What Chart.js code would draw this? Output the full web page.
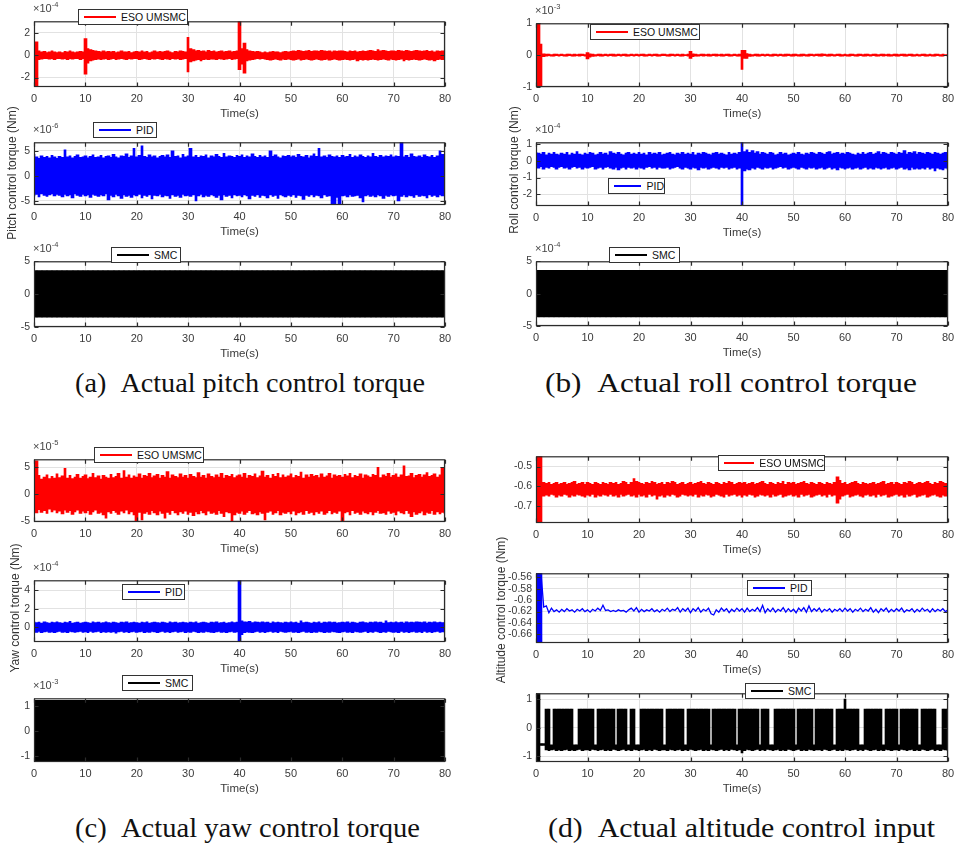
<!DOCTYPE html>
<html><head><meta charset="utf-8">
<script src="https://cdn.jsdelivr.net/npm/chart.js@4.4.0/dist/chart.umd.min.js"></script>
<style>
body{margin:0;background:#fff;width:957px;height:844px;position:relative;overflow:hidden;font-family:"Liberation Sans",Arial,sans-serif;}
canvas{position:absolute;}
.leg{position:absolute;background:#fff;border:1px solid #333;box-sizing:border-box;display:flex;align-items:center;font-size:10.5px;color:#111;white-space:nowrap;z-index:5;}
.leg i{display:inline-block;height:2px;margin:0 5px 0 5px;}
.exp{position:absolute;font-size:11px;color:#444;line-height:12px;white-space:nowrap;}
.exp sup{font-size:7.5px;vertical-align:5px;line-height:0;}
.ytl{position:absolute;width:220px;height:16px;line-height:16px;text-align:center;font-size:12px;color:#333;transform:rotate(-90deg);white-space:nowrap;}
.cap{position:absolute;font-family:"Liberation Serif","Times New Roman",serif;font-size:28px;line-height:30px;color:#111;white-space:nowrap;transform-origin:0 50%;}
</style></head><body>
<script>
// ---------- data ----------
const xTicks = [0,10,20,30,40,50,60,70,80];
const aEsoTicks = [-2,0,2];
const aPidTicks = [-5,0,5];
const smcTicks = [-5,0,5];
const bEsoTicks = [-1,0,1];
const bPidTicks = [-2,-1,0,1];
const cEsoTicks = [-5,0,5];
const cPidTicks = [0,2,4];
const cSmcTicks = [-1,0,1];
const dEsoTicks = [-0.7,-0.6,-0.5];
const dPidTicks = [-0.66,-0.64,-0.62,-0.6,-0.58,-0.56];
const dSmcTicks = [-1,0,1];

// (a) pitch, ESO UMSMC (x1e-4), bins every 0.5 s : upper / lower envelope
const aEsoHi = [0.3,1.2,0.4,0.3,0.35,0.25,0.3,0.4,0.3,0.25, 0.3,0.25,0.35,0.3,0.4,0.3,0.25,0.3,0.35,0.3,
 1.5,0.6,0.5,0.45,0.4,0.35,0.3,0.4,0.3,0.35, 0.3,0.35,0.25,0.3,0.4,0.3,0.3,0.35,0.25,0.3,
 0.35,0.3,0.4,0.3,0.35,0.25,0.3,0.4,0.3,0.35, 0.3,0.35,0.4,0.3,0.25,0.35,0.3,0.4,0.35,0.3,
 1.6,0.6,0.5,0.4,0.45,0.35,0.4,0.3,0.45,0.35, 0.4,0.3,0.35,0.4,0.3,0.35,0.4,0.3,0.35,0.4,
 3.05,0.6,1.1,0.5,0.4,0.35,0.3,0.35,0.3,0.25, 0.3,0.25,0.3,0.35,0.3,0.3,0.25,0.3,0.35,0.3,
 0.35,0.4,0.35,0.45,0.4,0.35,0.4,0.45,0.35,0.4, 0.4,0.35,0.45,0.4,0.35,0.4,0.3,0.4,0.35,0.4,
 0.4,0.35,0.3,0.4,0.35,0.4,0.3,0.35,0.4,0.35, 0.4,0.45,0.4,0.35,0.5,0.4,0.45,0.4,0.35,0.4,
 0.4,0.35,0.45,0.4,0.35,0.45,0.4,0.35,0.4,0.45, 0.4,0.35,0.4,0.45,0.35,0.4,0.3,0.4,0.35,0.4, 0.3];
const aEsoLo = [-0.3,-2.85,-0.4,-0.35,-0.3,-0.3,-0.35,-0.3,-0.4,-0.3, -0.3,-0.35,-0.3,-0.4,-0.3,-0.35,-0.3,-0.3,-0.4,-0.3,
 -1.7,-0.7,-0.5,-0.45,-0.4,-0.35,-0.4,-0.35,-0.3,-0.4, -0.35,-0.3,-0.4,-0.35,-0.3,-0.35,-0.4,-0.3,-0.35,-0.3,
 -0.3,-0.4,-0.35,-0.3,-0.35,-0.4,-0.3,-0.35,-0.3,-0.35, -0.4,-0.3,-0.35,-0.4,-0.3,-0.35,-0.3,-0.4,-0.35,-0.3,
 -1.5,-0.6,-0.5,-0.45,-0.4,-0.5,-0.4,-0.35,-0.4,-0.35, -0.35,-0.4,-0.3,-0.35,-0.4,-0.35,-0.3,-0.4,-0.35,-0.3,
 -1.3,-0.8,-1.6,-0.5,-0.45,-0.4,-0.35,-0.3,-0.35,-0.3, -0.35,-0.4,-0.45,-0.4,-0.35,-0.4,-0.45,-0.35,-0.4,-0.35,
 -0.4,-0.45,-0.4,-0.35,-0.45,-0.4,-0.35,-0.4,-0.45,-0.4, -0.35,-0.4,-0.45,-0.4,-0.35,-0.45,-0.4,-0.35,-0.4,-0.45,
 -0.4,-0.35,-0.4,-0.45,-0.4,-0.35,-0.5,-0.4,-0.45,-0.4, -0.45,-0.4,-0.35,-0.4,-0.45,-0.4,-0.35,-0.4,-0.45,-0.35,
 -0.4,-0.45,-0.4,-0.35,-0.5,-0.4,-0.45,-0.4,-0.35,-0.4, -0.45,-0.4,-0.35,-0.4,-0.45,-0.4,-0.5,-0.4,-0.35,-0.4, -0.3];

// (a) pitch, PID (x1e-6)
const aPidHi = [4.3,3.8,3.5,4.0,3.7,3.9,3.6,4.1,3.8,3.5, 3.9,3.7,5.2,3.8,4.0,3.6,3.9,4.2,3.7,3.8,
 4.0,3.6,3.9,4.2,3.7,3.8,4.1,3.6,3.9,4.0, 3.7,4.3,3.8,3.6,4.0,3.9,4.4,3.7,4.0,5.5,
 3.8,4.1,6.0,3.9,3.7,4.2,3.8,4.0,3.6,3.9, 4.1,3.8,4.2,3.7,5.0,3.9,4.0,3.6,4.3,3.8,
 4.0,5.5,3.8,4.1,3.7,4.0,3.9,4.2,3.6,4.0, 3.8,4.3,3.9,3.7,4.5,3.8,4.0,3.9,3.7,4.1,
 3.9,4.2,3.7,4.0,3.8,4.4,3.9,3.7,4.1,3.8, 4.0,3.7,5.0,3.9,4.2,3.8,3.6,4.0,3.9,4.1,
 3.8,4.0,3.7,4.3,3.9,3.8,4.1,3.6,4.0,4.4, 3.9,5.5,3.8,4.0,3.7,4.2,3.9,3.8,4.0,3.7,
 4.1,3.8,3.9,4.3,3.7,4.0,3.8,4.2,3.9,3.7, 4.0,3.8,4.5,3.9,3.7,4.1,3.8,4.0,3.9,4.2,
 3.8,4.0,3.9,6.7,3.8,4.1,3.7,4.4,3.9,3.8, 4.0,3.7,4.2,3.9,3.8,4.1,3.7,4.0,5.0,4.3, 4.0];
const aPidLo = [-4.0,-3.7,-4.2,-3.6,-3.9,-4.1,-3.8,-3.6,-4.0,-3.7, -3.9,-4.2,-3.7,-4.0,-3.8,-4.4,-3.6,-3.9,-4.1,-3.7,
 -4.0,-3.8,-4.3,-3.7,-3.9,-4.1,-3.8,-4.0,-3.6,-4.8, -3.9,-4.2,-3.7,-4.0,-4.5,-3.8,-4.1,-3.9,-4.3,-3.8,
 -4.0,-3.7,-4.4,-3.9,-4.1,-3.8,-4.6,-3.9,-4.0,-3.7, -4.2,-3.9,-4.0,-4.5,-3.8,-4.1,-3.9,-4.3,-3.7,-4.0,
 -3.9,-4.1,-3.8,-5.0,-4.0,-3.7,-4.2,-3.9,-4.1,-3.8, -4.0,-4.3,-3.9,-4.8,-3.8,-4.1,-3.9,-4.4,-3.8,-4.0,
 -3.9,-4.2,-3.8,-4.0,-4.6,-3.9,-4.1,-3.8,-4.3,-3.9, -4.0,-4.4,-3.8,-4.1,-3.9,-4.5,-3.8,-4.0,-4.2,-3.9,
 -4.1,-3.8,-4.3,-3.9,-4.0,-4.7,-3.9,-4.1,-3.8,-4.2, -3.9,-4.0,-4.4,-3.8,-4.1,-4.0,-5.8,-5.6,-4.3,-5.8,
 -4.0,-3.9,-4.2,-3.8,-4.1,-4.0,-3.9,-4.4,-5.2,-4.0, -3.8,-4.1,-3.9,-4.2,-3.8,-4.0,-4.5,-3.9,-4.1,-3.8,
 -4.0,-3.9,-5.0,-4.1,-3.8,-4.2,-3.9,-4.0,-4.3,-3.8, -4.1,-3.9,-4.0,-4.4,-3.8,-4.1,-3.9,-4.2,-3.8,-4.0, -3.9];

// SMC chattering bands (x1e-4 for a,b ; x1e-3 for c), bins every 1 s
const aSmcHi = [3.6,3.6,3.6,3.6,3.6,3.6,3.6,3.6,3.6,3.6, 3.6,3.6,3.6,3.6,3.6,3.6,3.6,3.6,3.6,3.6,
 3.6,3.6,3.6,3.6,3.6,3.6,3.6,3.6,3.6,3.6, 3.6,3.6,3.6,3.6,3.6,3.6,3.6,3.6,3.6,3.6,
 3.6,3.6,3.6,3.6,3.6,3.6,3.6,3.6,3.6,3.6, 3.6,3.6,3.6,3.6,3.6,3.6,3.6,3.6,3.6,3.6,
 3.6,3.6,3.6,3.6,3.6,3.6,3.6,3.6,3.6,3.6, 3.6,3.6,3.6,3.6,3.6,3.6,3.6,3.6,3.6,3.6, 3.6];
const aSmcLo = [-3.5,-3.5,-3.5,-3.5,-3.5,-3.5,-3.5,-3.5,-3.5,-3.5, -3.5,-3.5,-3.5,-3.5,-3.5,-3.5,-3.5,-3.5,-3.5,-3.5,
 -3.5,-3.5,-3.5,-3.5,-3.5,-3.5,-3.5,-3.5,-3.5,-3.5, -3.5,-3.5,-3.5,-3.5,-3.5,-3.5,-3.5,-3.5,-3.5,-3.5,
 -3.5,-3.5,-3.5,-3.5,-3.5,-3.5,-3.5,-3.5,-3.5,-3.5, -3.5,-3.5,-3.5,-3.5,-3.5,-3.5,-3.5,-3.5,-3.5,-3.5,
 -3.5,-3.5,-3.5,-3.5,-3.5,-3.5,-3.5,-3.5,-3.5,-3.5, -3.5,-3.5,-3.5,-3.5,-3.5,-3.5,-3.5,-3.5,-3.5,-3.5, -3.5];
const bSmcHi = [3.6,3.6,3.6,3.6,3.6,3.6,3.6,3.6,3.6,3.6, 3.6,3.6,3.6,3.6,3.6,3.6,3.6,3.6,3.6,3.6,
 3.6,3.6,3.6,3.6,3.6,3.6,3.6,3.6,3.6,3.6, 3.6,3.6,3.6,3.6,3.6,3.6,3.6,3.6,3.6,3.6,
 3.6,3.6,3.6,3.6,3.6,3.6,3.6,3.6,3.6,3.6, 3.6,3.6,3.6,3.6,3.6,3.6,3.6,3.6,3.6,3.6,
 3.6,3.6,3.6,3.6,3.6,3.6,3.6,3.6,3.6,3.6, 3.6,3.6,3.6,3.6,3.6,3.6,3.6,3.6,3.6,3.6, 3.6];
const bSmcLo = [-3.6,-3.6,-3.6,-3.6,-3.6,-3.6,-3.6,-3.6,-3.6,-3.6, -3.6,-3.6,-3.6,-3.6,-3.6,-3.6,-3.6,-3.6,-3.6,-3.6,
 -3.6,-3.6,-3.6,-3.6,-3.6,-3.6,-3.6,-3.6,-3.6,-3.6, -3.6,-3.6,-3.6,-3.6,-3.6,-3.6,-3.6,-3.6,-3.6,-3.6,
 -3.6,-3.6,-3.6,-3.6,-3.6,-3.6,-3.6,-3.6,-3.6,-3.6, -3.6,-3.6,-3.6,-3.6,-3.6,-3.6,-3.6,-3.6,-3.6,-3.6,
 -3.6,-3.6,-3.6,-3.6,-3.6,-3.6,-3.6,-3.6,-3.6,-3.6, -3.6,-3.6,-3.6,-3.6,-3.6,-3.6,-3.6,-3.6,-3.6,-3.6, -3.6];
const cSmcHi = [1.22,1.22,1.22,1.22,1.22,1.22,1.22,1.22,1.22,1.22, 1.22,1.22,1.22,1.22,1.22,1.22,1.22,1.22,1.22,1.22,
 1.22,1.22,1.22,1.22,1.22,1.22,1.22,1.22,1.22,1.22, 1.22,1.22,1.22,1.22,1.22,1.22,1.22,1.22,1.22,1.22,
 1.22,1.22,1.22,1.22,1.22,1.22,1.22,1.22,1.22,1.22, 1.22,1.22,1.22,1.22,1.22,1.22,1.22,1.22,1.22,1.22,
 1.22,1.22,1.22,1.22,1.22,1.22,1.22,1.22,1.22,1.22, 1.22,1.22,1.22,1.22,1.22,1.22,1.22,1.22,1.22,1.22, 1.22];
const cSmcLo = [-1.2,-1.2,-1.2,-1.2,-1.2,-1.2,-1.2,-1.2,-1.2,-1.2, -1.2,-1.2,-1.2,-1.2,-1.2,-1.2,-1.2,-1.2,-1.2,-1.2,
 -1.2,-1.2,-1.2,-1.2,-1.2,-1.2,-1.2,-1.2,-1.2,-1.2, -1.2,-1.2,-1.2,-1.2,-1.2,-1.2,-1.2,-1.2,-1.2,-1.2,
 -1.2,-1.2,-1.2,-1.2,-1.2,-1.2,-1.2,-1.2,-1.2,-1.2, -1.2,-1.2,-1.2,-1.2,-1.2,-1.2,-1.2,-1.2,-1.2,-1.2,
 -1.2,-1.2,-1.2,-1.2,-1.2,-1.2,-1.2,-1.2,-1.2,-1.2, -1.2,-1.2,-1.2,-1.2,-1.2,-1.2,-1.2,-1.2,-1.2,-1.2, -1.2];

// (b) roll, ESO UMSMC (x1e-3)
const bEsoHi = [0.05,1.0,0.35,0.04,0.03,0.03,0.02,0.03,0.03,0.02, 0.03,0.02,0.03,0.03,0.02,0.03,0.02,0.03,0.03,0.02,
 0.08,0.04,0.03,0.02,0.03,0.03,0.02,0.03,0.02,0.03, 0.03,0.02,0.03,0.02,0.03,0.03,0.02,0.03,0.02,0.03,
 0.02,0.03,0.03,0.02,0.03,0.02,0.03,0.03,0.02,0.03, 0.03,0.02,0.03,0.03,0.02,0.03,0.02,0.03,0.02,0.03,
 0.12,0.04,0.03,0.02,0.03,0.03,0.02,0.03,0.02,0.03, 0.03,0.02,0.03,0.02,0.03,0.03,0.02,0.03,0.02,0.03,
 0.15,0.15,0.05,0.03,0.02,0.03,0.03,0.02,0.03,0.02, 0.03,0.02,0.03,0.03,0.02,0.03,0.02,0.03,0.03,0.02,
 0.03,0.03,0.02,0.03,0.03,0.02,0.03,0.03,0.02,0.03, 0.03,0.04,0.03,0.02,0.03,0.03,0.02,0.03,0.03,0.02,
 0.03,0.02,0.03,0.03,0.02,0.03,0.03,0.02,0.03,0.03, 0.02,0.03,0.03,0.02,0.03,0.03,0.02,0.03,0.02,0.03,
 0.03,0.02,0.03,0.03,0.02,0.03,0.03,0.02,0.03,0.02, 0.03,0.03,0.02,0.03,0.02,0.03,0.03,0.02,0.03,0.02, 0.02];
const bEsoLo = [-0.05,-1.0,-1.0,-0.05,-0.03,-0.02,-0.03,-0.03,-0.02,-0.03, -0.02,-0.03,-0.03,-0.02,-0.03,-0.03,-0.02,-0.03,-0.02,-0.03,
 -0.12,-0.06,-0.04,-0.03,-0.02,-0.03,-0.03,-0.02,-0.03,-0.02, -0.03,-0.03,-0.02,-0.03,-0.02,-0.03,-0.03,-0.02,-0.03,-0.02,
 -0.03,-0.02,-0.03,-0.03,-0.02,-0.03,-0.02,-0.03,-0.03,-0.02, -0.02,-0.03,-0.03,-0.02,-0.03,-0.02,-0.03,-0.03,-0.02,-0.03,
 -0.1,-0.05,-0.03,-0.03,-0.02,-0.03,-0.02,-0.03,-0.03,-0.02, -0.03,-0.02,-0.03,-0.03,-0.02,-0.03,-0.03,-0.02,-0.03,-0.03,
 -0.45,-0.1,-0.1,-0.04,-0.03,-0.02,-0.03,-0.03,-0.02,-0.03, -0.02,-0.03,-0.03,-0.02,-0.03,-0.02,-0.03,-0.03,-0.02,-0.03,
 -0.03,-0.02,-0.03,-0.03,-0.02,-0.03,-0.03,-0.02,-0.03,-0.02, -0.03,-0.03,-0.02,-0.03,-0.03,-0.02,-0.03,-0.02,-0.03,-0.03,
 -0.02,-0.03,-0.03,-0.02,-0.03,-0.03,-0.02,-0.03,-0.03,-0.02, -0.03,-0.02,-0.03,-0.03,-0.02,-0.03,-0.02,-0.03,-0.03,-0.02,
 -0.03,-0.03,-0.02,-0.03,-0.03,-0.02,-0.03,-0.03,-0.02,-0.03, -0.02,-0.03,-0.03,-0.02,-0.03,-0.03,-0.02,-0.03,-0.03,-0.02, -0.03];

// (b) roll, PID (x1e-4)
const bPidHi = [0.5,0.45,0.4,0.5,0.35,0.45,0.4,0.5,0.4,0.35, 0.45,0.4,0.5,0.35,0.45,0.4,0.55,0.4,0.35,0.45,
 0.4,0.5,0.45,0.35,0.4,0.5,0.4,0.45,0.35,0.55, 0.45,0.4,0.5,0.4,0.35,0.45,0.5,0.4,0.45,0.4,
 0.5,0.4,0.45,0.35,0.5,0.4,0.45,0.4,0.5,0.35, 0.4,0.45,0.5,0.4,0.35,0.45,0.4,0.5,0.4,0.45,
 0.4,0.5,0.35,0.45,0.4,0.5,0.45,0.4,0.35,0.45, 0.5,0.4,0.45,0.4,0.35,0.5,0.4,0.45,0.4,0.5,
 1.1,0.55,0.65,0.5,0.6,0.45,0.55,0.4,0.5,0.45, 0.4,0.5,0.45,0.35,0.4,0.5,0.4,0.45,0.35,0.4,
 0.45,0.4,0.5,0.4,0.35,0.45,0.4,0.5,0.45,0.4, 0.5,0.45,0.4,0.5,0.55,0.4,0.45,0.5,0.4,0.45,
 0.4,0.5,0.45,0.4,0.35,0.45,0.4,0.5,0.4,0.45, 0.5,0.4,0.45,0.55,0.4,0.5,0.45,0.4,0.5,0.45,
 0.4,0.5,0.45,0.6,0.4,0.5,0.45,0.55,0.4,0.5, 0.45,0.4,0.5,0.45,0.4,0.5,0.45,0.4,0.45,0.5, 0.4];
const bPidLo = [-0.4,-0.45,-0.35,-0.5,-0.4,-0.45,-0.35,-0.4,-0.5,-0.4, -0.35,-0.45,-0.4,-0.5,-0.4,-0.35,-0.45,-0.4,-0.5,-0.4,
 -0.45,-0.4,-0.35,-0.5,-0.45,-0.4,-0.5,-0.4,-0.35,-0.45, -0.5,-0.4,-0.55,-0.45,-0.4,-0.5,-0.4,-0.45,-0.4,-0.5,
 -0.4,-0.45,-0.5,-0.4,-0.35,-0.45,-0.4,-0.5,-0.4,-0.45, -0.45,-0.4,-0.5,-0.45,-0.4,-0.35,-0.45,-0.5,-0.4,-0.45,
 -0.5,-0.4,-0.45,-0.55,-0.4,-0.45,-0.4,-0.5,-0.45,-0.4, -0.45,-0.5,-0.4,-0.45,-0.4,-0.5,-0.45,-0.4,-0.5,-0.45,
 -2.7,-0.6,-0.5,-0.55,-0.45,-0.5,-0.4,-0.45,-0.5,-0.4, -0.45,-0.4,-0.5,-0.45,-0.4,-0.35,-0.45,-0.4,-0.5,-0.45,
 -0.4,-0.45,-0.5,-0.4,-0.45,-0.5,-0.4,-0.45,-0.4,-0.5, -0.45,-0.4,-0.5,-0.45,-0.4,-0.5,-0.45,-0.55,-0.4,-0.45,
 -0.5,-0.45,-0.4,-0.5,-0.45,-0.4,-0.5,-0.45,-0.4,-0.5, -0.45,-0.5,-0.4,-0.45,-0.5,-0.45,-0.4,-0.5,-0.45,-0.4,
 -0.5,-0.45,-0.4,-0.5,-0.45,-0.55,-0.4,-0.5,-0.45,-0.5, -0.45,-0.5,-0.4,-0.5,-0.45,-0.6,-0.45,-0.5,-0.55,-0.45, -0.5];

// (c) yaw, ESO UMSMC (x1e-5)
const cEsoHi = [3.0,6.2,3.5,2.8,3.2,3.6,2.9,3.3,3.0,3.8, 3.1,3.4,4.8,3.0,3.5,2.9,3.2,3.7,3.0,3.3,
 3.6,2.9,3.2,3.9,3.1,3.4,2.8,3.5,3.2,3.0, 3.7,3.1,3.3,3.9,3.0,4.4,3.2,3.6,3.0,3.4,
 3.2,3.8,3.0,3.5,3.3,3.9,3.1,3.4,3.7,3.0, 3.5,3.2,4.2,3.0,3.6,3.3,3.1,3.8,3.2,3.5,
 3.0,3.7,3.3,3.1,4.0,3.2,3.5,3.0,3.8,3.3, 3.1,3.6,3.2,3.9,3.0,3.5,3.3,3.7,3.1,3.4,
 3.6,3.2,3.9,3.0,3.5,3.3,3.8,3.1,3.4,4.3, 3.2,3.5,3.0,3.7,3.3,3.9,3.1,3.6,3.2,3.4,
 3.8,3.1,3.5,3.3,4.1,3.0,3.6,3.2,3.7,3.3, 3.5,3.1,3.8,3.2,3.4,3.9,3.0,3.6,3.3,3.5,
 3.2,3.7,3.4,3.9,3.1,3.5,3.3,3.8,3.0,3.6, 3.4,3.2,3.7,3.5,5.0,3.1,3.6,3.3,3.9,3.2,
 3.5,3.8,3.2,3.6,5.3,3.3,3.4,3.9,3.1,3.5, 3.7,3.2,3.6,4.0,3.3,3.5,3.8,3.2,3.6,5.0, 4.6];
const cEsoLo = [-3.0,-3.5,-2.9,-3.4,-3.1,-3.6,-2.8,-3.3,-3.0,-3.5, -3.2,-3.7,-3.0,-3.4,-3.1,-3.8,-3.3,-3.0,-3.6,-3.2,
 -3.5,-3.1,-3.8,-3.3,-3.0,-3.6,-3.4,-3.9,-4.5,-3.3, -3.6,-3.1,-3.4,-3.8,-3.2,-3.5,-3.0,-3.7,-3.3,-3.9,
 -5.0,-3.4,-4.8,-3.6,-3.3,-3.8,-3.1,-3.5,-3.9,-3.2, -3.6,-4.5,-3.4,-3.8,-3.1,-3.5,-3.9,-3.3,-3.6,-3.2,
 -3.8,-3.4,-4.0,-3.3,-3.7,-3.1,-3.5,-3.9,-3.2,-3.6, -3.4,-3.8,-3.1,-3.6,-4.2,-3.3,-3.5,-5.2,-3.9,-3.4,
 -3.6,-3.2,-3.8,-3.4,-3.1,-3.7,-3.5,-3.9,-3.3,-3.6, -4.8,-3.4,-3.2,-3.8,-3.5,-3.1,-3.9,-3.4,-3.6,-3.3,
 -3.7,-3.2,-3.9,-3.5,-3.3,-3.8,-3.1,-3.6,-3.4,-3.9, -3.3,-3.6,-3.2,-3.8,-3.5,-3.1,-3.7,-3.4,-3.6,-3.2,
 -5.0,-3.5,-3.3,-3.9,-3.1,-3.6,-3.4,-3.8,-3.2,-3.5, -3.7,-3.3,-3.9,-3.4,-3.1,-3.6,-3.5,-3.8,-3.2,-3.6,
 -3.4,-3.9,-3.2,-3.5,-3.7,-3.1,-3.6,-4.2,-3.3,-3.8, -3.5,-3.2,-3.9,-3.4,-3.6,-3.1,-3.8,-3.3,-3.7,-3.4, -3.6];

// (c) yaw, PID (x1e-4)
const cPidHi = [0.6,0.5,0.55,0.45,0.6,0.5,0.45,0.55,0.5,0.6, 0.5,0.45,0.55,0.5,0.65,0.45,0.5,0.55,0.45,0.5,
 0.55,0.5,0.45,0.6,0.5,0.55,0.45,0.5,0.6,0.5, 0.45,0.55,0.5,0.45,0.55,0.5,0.6,0.45,0.5,0.55,
 0.5,0.45,0.55,0.5,0.6,0.45,0.5,0.55,0.5,0.45, 0.55,0.5,0.45,0.6,0.5,0.55,0.45,0.5,0.55,0.5,
 0.45,0.55,0.5,0.6,0.45,0.5,0.55,0.5,0.45,0.55, 0.5,0.6,0.45,0.5,0.55,0.45,0.5,0.6,0.5,0.55,
 5.1,0.7,0.6,0.55,0.65,0.5,0.6,0.55,0.5,0.6, 0.5,0.55,0.45,0.6,0.5,0.55,0.5,0.45,0.55,0.5,
 0.6,0.5,0.55,0.45,0.7,0.5,0.55,0.5,0.45,0.55, 0.5,0.6,0.45,0.55,0.5,0.6,0.5,0.55,0.45,0.5,
 0.55,0.5,0.6,0.45,0.55,0.5,0.45,0.55,0.6,0.5, 0.45,0.55,0.5,0.6,0.5,0.55,0.45,0.7,0.5,0.55,
 0.5,0.6,0.5,0.55,0.45,0.6,0.5,0.55,0.5,0.6, 0.55,0.5,0.6,0.45,0.55,0.5,0.6,0.5,0.55,0.5, 0.5];
const cPidLo = [-0.5,-0.55,-0.45,-0.6,-0.5,-0.45,-0.55,-0.5,-0.6,-0.5, -0.45,-0.55,-0.5,-0.6,-0.45,-0.5,-0.55,-0.5,-0.45,-0.55,
 -0.5,-0.6,-0.45,-0.55,-0.5,-0.45,-0.6,-0.5,-0.55,-0.5, -0.55,-0.5,-0.65,-0.5,-0.45,-0.55,-0.5,-0.6,-0.5,-0.45,
 -0.55,-0.5,-0.45,-0.6,-0.5,-0.55,-0.45,-0.5,-0.6,-0.5, -0.45,-0.55,-0.5,-0.6,-0.5,-0.45,-0.55,-0.5,-0.45,-0.6,
 -0.5,-0.55,-0.45,-0.5,-0.6,-0.5,-0.55,-0.45,-0.5,-0.55, -0.6,-0.5,-0.45,-0.55,-0.5,-0.6,-0.5,-0.45,-0.55,-0.5,
 -1.6,-0.8,-0.6,-0.5,-0.55,-0.6,-0.5,-0.45,-0.55,-0.5, -0.6,-0.5,-0.45,-0.55,-0.5,-0.6,-0.45,-0.5,-0.55,-0.5,
 -0.45,-0.55,-0.5,-0.6,-0.5,-0.45,-0.55,-0.5,-0.6,-0.5, -0.55,-0.45,-0.5,-0.6,-0.5,-0.55,-0.45,-0.5,-0.55,-0.6,
 -0.5,-0.45,-0.55,-0.5,-0.6,-0.45,-0.5,-0.55,-0.5,-0.45, -0.6,-0.5,-0.55,-0.45,-0.5,-0.6,-0.5,-0.55,-0.45,-0.5,
 -0.55,-0.5,-0.6,-0.45,-0.55,-0.5,-0.6,-0.5,-0.45,-0.55, -0.5,-0.6,-0.45,-0.55,-0.5,-0.6,-0.5,-0.45,-0.55,-0.5, -0.5];

// (d) altitude, ESO UMSMC
const dEsoHi = [-0.59,-0.448,-0.448,-0.58,-0.585,-0.58,-0.59,-0.585,-0.58,-0.59, -0.585,-0.58,-0.59,-0.585,-0.58,-0.575,-0.59,-0.585,-0.58,-0.59,
 -0.58,-0.585,-0.59,-0.58,-0.585,-0.59,-0.58,-0.585,-0.59,-0.58, -0.585,-0.58,-0.59,-0.585,-0.575,-0.58,-0.59,-0.58,-0.56,-0.575,
 -0.58,-0.585,-0.59,-0.58,-0.585,-0.575,-0.58,-0.59,-0.585,-0.58, -0.59,-0.58,-0.585,-0.575,-0.58,-0.59,-0.585,-0.58,-0.59,-0.585,
 -0.58,-0.59,-0.585,-0.58,-0.575,-0.585,-0.59,-0.58,-0.585,-0.59, -0.58,-0.585,-0.59,-0.58,-0.585,-0.575,-0.58,-0.59,-0.585,-0.58,
 -0.585,-0.58,-0.59,-0.585,-0.58,-0.59,-0.585,-0.58,-0.575,-0.585, -0.59,-0.58,-0.585,-0.59,-0.58,-0.585,-0.575,-0.59,-0.58,-0.585,
 -0.58,-0.59,-0.585,-0.58,-0.575,-0.585,-0.59,-0.58,-0.585,-0.59, -0.58,-0.585,-0.59,-0.58,-0.585,-0.59,-0.58,-0.552,-0.57,-0.585,
 -0.58,-0.59,-0.585,-0.58,-0.575,-0.585,-0.59,-0.58,-0.585,-0.59, -0.585,-0.58,-0.59,-0.585,-0.58,-0.575,-0.59,-0.585,-0.58,-0.59,
 -0.58,-0.585,-0.59,-0.58,-0.585,-0.575,-0.58,-0.59,-0.585,-0.58, -0.585,-0.58,-0.575,-0.585,-0.59,-0.58,-0.585,-0.575,-0.58,-0.585, -0.59];
const dEsoLo = [-0.64,-0.785,-0.785,-0.65,-0.645,-0.65,-0.64,-0.645,-0.655,-0.645, -0.65,-0.64,-0.645,-0.655,-0.645,-0.65,-0.64,-0.645,-0.65,-0.655,
 -0.645,-0.65,-0.64,-0.655,-0.645,-0.65,-0.64,-0.645,-0.65,-0.64, -0.65,-0.645,-0.655,-0.64,-0.65,-0.645,-0.64,-0.65,-0.645,-0.655,
 -0.64,-0.65,-0.645,-0.655,-0.64,-0.65,-0.645,-0.665,-0.65,-0.645, -0.655,-0.645,-0.65,-0.64,-0.645,-0.655,-0.65,-0.64,-0.645,-0.65,
 -0.645,-0.65,-0.64,-0.655,-0.645,-0.65,-0.64,-0.645,-0.655,-0.65, -0.64,-0.645,-0.65,-0.655,-0.64,-0.65,-0.645,-0.64,-0.65,-0.645,
 -0.655,-0.645,-0.65,-0.64,-0.645,-0.655,-0.65,-0.64,-0.645,-0.65, -0.645,-0.655,-0.64,-0.65,-0.645,-0.64,-0.655,-0.65,-0.645,-0.64,
 -0.65,-0.645,-0.655,-0.64,-0.65,-0.645,-0.64,-0.655,-0.65,-0.645, -0.64,-0.65,-0.645,-0.655,-0.64,-0.65,-0.645,-0.685,-0.665,-0.65,
 -0.645,-0.64,-0.655,-0.65,-0.645,-0.64,-0.65,-0.655,-0.645,-0.64, -0.65,-0.645,-0.655,-0.64,-0.65,-0.645,-0.64,-0.655,-0.65,-0.645,
 -0.64,-0.65,-0.645,-0.655,-0.64,-0.65,-0.645,-0.64,-0.655,-0.65, -0.645,-0.64,-0.655,-0.65,-0.645,-0.64,-0.65,-0.655,-0.645,-0.65, -0.64];

// (d) altitude, PID : start-up oscillation (time, value) and trace every 0.5 s
const dPidT0 = [0,0.1,0.2,0.3,0.4,0.5,0.6,0.7,0.8,0.9,1.0,1.1];
const dPidV0 = [-0.55,-0.70,-0.55,-0.70,-0.55,-0.70,-0.55,-0.70,-0.55,-0.70,-0.55,-0.70];
const dPidV = [-0.555,-0.555,-0.556,-0.612,-0.610,-0.622,-0.614,-0.620,-0.617,-0.621, -0.616,-0.620,-0.615,-0.619,-0.617,-0.621,-0.616,-0.619,-0.615,-0.620,
 -0.617,-0.621,-0.616,-0.619,-0.614,-0.618,-0.609,-0.618,-0.617,-0.620, -0.618,-0.620,-0.617,-0.619,-0.618,-0.621,-0.617,-0.614,-0.619,-0.613,
 -0.621,-0.616,-0.620,-0.617,-0.619,-0.615,-0.620,-0.617,-0.621,-0.616, -0.619,-0.614,-0.620,-0.616,-0.618,-0.613,-0.621,-0.615,-0.619,-0.614,
 -0.622,-0.615,-0.619,-0.613,-0.621,-0.616,-0.619,-0.614,-0.624,-0.626, -0.617,-0.621,-0.614,-0.619,-0.615,-0.622,-0.616,-0.620,-0.614,-0.619,
 -0.615,-0.621,-0.614,-0.620,-0.616,-0.619,-0.613,-0.620,-0.609,-0.622, -0.615,-0.620,-0.614,-0.621,-0.616,-0.619,-0.613,-0.621,-0.615,-0.620,
 -0.616,-0.622,-0.614,-0.619,-0.613,-0.621,-0.610,-0.620,-0.615,-0.619, -0.614,-0.621,-0.616,-0.619,-0.615,-0.621,-0.616,-0.619,-0.615,-0.620,
 -0.614,-0.619,-0.615,-0.621,-0.616,-0.619,-0.614,-0.620,-0.616,-0.619, -0.613,-0.621,-0.616,-0.622,-0.615,-0.619,-0.614,-0.621,-0.616,-0.620,
 -0.615,-0.619,-0.614,-0.621,-0.617,-0.619,-0.615,-0.621,-0.616,-0.620, -0.614,-0.619,-0.616,-0.621,-0.615,-0.620,-0.616,-0.619,-0.615,-0.620, -0.617];

// (d) altitude, SMC : envelope every 0.5 s
const dSmcHi = [1.2,1.2,-0.56,-0.56,0.65,0.65,-0.6,0.65,0.65,0.65, 0.65,0.65,0.65,0.65,0.65,-0.6,-0.6,0.65,0.65,0.65,
 0.65,0.65,0.65,-0.6,0.65,0.65,0.65,0.65,0.65,0.65, 0.65,-0.6,0.65,0.65,0.65,0.65,-0.6,0.65,0.65,-0.6,
 -0.6,0.65,0.65,0.65,0.65,0.65,0.65,0.65,0.65,0.65, -0.6,0.65,0.65,0.65,0.65,0.65,0.65,0.65,-0.6,0.65,
 0.65,0.65,0.65,0.65,0.65,0.65,0.65,0.65,-0.6,0.65, 0.65,0.65,0.65,0.65,0.65,0.65,0.65,0.65,-0.6,0.65,
 0.65,0.65,0.65,0.65,0.65,0.65,0.65,-0.6,0.65,0.65, 0.65,-0.6,-0.6,0.65,0.65,0.65,0.65,0.65,0.65,0.65,
 0.65,-0.6,0.65,0.65,0.65,0.65,0.65,0.65,-0.6,0.65, 0.65,0.65,0.65,0.65,0.65,0.65,-0.6,0.65,0.65,0.65,
 1.0,0.65,0.65,0.65,0.65,0.65,-0.6,-0.6,0.65,0.65, 0.65,0.65,0.65,0.65,0.65,-0.6,0.65,0.65,0.65,0.65,
 0.65,-0.6,0.65,0.65,0.65,0.65,0.65,0.65,0.65,-0.6, 0.65,0.65,0.65,0.65,0.65,0.65,-0.6,-0.6,0.65,0.65, 0.65];
const dSmcLo = [-1.2,-1.2,-0.62,-0.62,-0.78,-0.8,-0.78,-0.76,-0.8,-0.78, -0.8,-0.78,-0.76,-0.8,-0.78,-0.8,-0.78,-0.76,-0.8,-0.78,
 -0.78,-0.8,-0.76,-0.78,-0.8,-0.78,-0.76,-0.8,-0.78,-0.8, -0.76,-0.78,-0.8,-0.78,-0.76,-0.8,-0.78,-0.8,-0.76,-0.78,
 -0.8,-0.78,-0.76,-0.8,-0.78,-0.8,-0.76,-0.78,-0.8,-0.78, -0.78,-0.8,-0.76,-0.78,-0.8,-0.78,-0.76,-0.8,-0.78,-0.8,
 -0.76,-0.78,-0.8,-0.78,-0.76,-0.8,-0.78,-0.8,-0.76,-0.78, -0.8,-0.78,-0.76,-0.8,-0.78,-0.8,-0.76,-0.78,-0.8,-0.78,
 -0.88,-0.8,-0.76,-0.78,-0.8,-0.78,-0.76,-0.8,-0.78,-0.8, -0.76,-0.78,-0.8,-0.78,-0.76,-0.8,-0.78,-0.8,-0.76,-0.78,
 -0.8,-0.78,-0.76,-0.8,-0.78,-0.8,-0.76,-0.78,-0.8,-0.78, -0.78,-0.8,-0.76,-0.78,-0.8,-0.78,-0.76,-0.8,-0.78,-0.8,
 -0.76,-0.78,-0.8,-0.78,-0.76,-0.8,-0.78,-0.8,-0.76,-0.78, -0.8,-0.78,-0.76,-0.8,-0.78,-0.8,-0.76,-0.78,-0.8,-0.78,
 -0.78,-0.8,-0.76,-0.78,-0.8,-0.78,-0.76,-0.8,-0.78,-0.8, -0.76,-0.78,-0.8,-0.78,-0.76,-0.8,-0.78,-0.8,-0.76,-0.78, -0.8];

// ---------- layout / style ----------
const RED = '#ff0000', BLUE = '#0000ff', BLACK = '#000000';
const FONT = '"Liberation Sans", Arial, sans-serif';
const panels = [
 {box:[34,17,411,70],  y:[-2.85,3.05], ticks:aEsoTicks, color:RED,   hi:aEsoHi, lo:aEsoLo, bin:0.5, exp:'-4', leg:['ESO UMSMC',78,9,110,16]},
 {box:[34,138,411,67], y:[-5.8,6.7],   ticks:aPidTicks, color:BLUE,  hi:aPidHi, lo:aPidLo, bin:0.5, exp:'-6', leg:['PID',93,122,64,16]},
 {box:[34,257,411,70], y:[-5,5],       ticks:smcTicks,  color:BLACK, hi:aSmcHi, lo:aSmcLo, bin:1,   exp:'-4', leg:['SMC',111,247,70,16]},
 {box:[536,19,412,68], y:[-1,1],       ticks:bEsoTicks, color:RED,   hi:bEsoHi, lo:bEsoLo, bin:0.5, exp:'-3', leg:['ESO UMSMC',590,24,110,16]},
 {box:[536,138,412,68],y:[-2.7,1.1],   ticks:bPidTicks, color:BLUE,  hi:bPidHi, lo:bPidLo, bin:0.5, exp:'-4', leg:['PID',608,178,57,16]},
 {box:[536,257,412,69],y:[-5,5],       ticks:smcTicks,  color:BLACK, hi:bSmcHi, lo:bSmcLo, bin:1,   exp:'-4', leg:['SMC',609,247,71,16]},
 {box:[34,455,411,67], y:[-5.2,6.5],   ticks:cEsoTicks, color:RED,   hi:cEsoHi, lo:cEsoLo, bin:0.5, exp:'-5', leg:['ESO UMSMC',94,447,110,16]},
 {box:[34,576,411,66], y:[-1.6,5.1],   ticks:cPidTicks, color:BLUE,  hi:cPidHi, lo:cPidLo, bin:0.5, exp:'-4', leg:['PID',122,584,63,16]},
 {box:[34,694,411,68], y:[-1.25,1.3],  ticks:cSmcTicks, color:BLACK, hi:cSmcHi, lo:cSmcLo, bin:1,   exp:'-3', leg:['SMC',122,675,71,16]},
 {box:[536,452,412,71],y:[-0.785,-0.448], ticks:dEsoTicks, color:RED, hi:dEsoHi, lo:dEsoLo, bin:0.5, exp:null, leg:['ESO UMSMC',718,455,107,16]},
 {box:[536,569,412,74],y:[-0.675,-0.553], ticks:dPidTicks, color:BLUE, line:true, exp:null, leg:['PID',747,580,65,16]},
 {box:[536,689,412,73],y:[-1.2,1.2],   ticks:dSmcTicks, color:BLACK, hi:dSmcHi, lo:dSmcLo, bin:0.5, exp:null, leg:['SMC',745,683,70,16]}
];
const yTitles = [
 ['Pitch control torque (Nm)',12,173], ['Roll control torque (Nm)',514,170],
 ['Yaw control torque (Nm)',15,608], ['Altitude control torque (Nm)',501,610]
];
const captions = [
 ['(a)\u00a0\u00a0Actual pitch control torque',75,425,383],
 ['(b)\u00a0\u00a0Actual roll control torque',545,917,383],
 ['(c)\u00a0\u00a0Actual yaw control torque',75,420,828],
 ['(d)\u00a0\u00a0Actual altitude control input',548,935,828]
];

const YW = 32, XH = 40, PT = 6, PR = 12;
// snap each envelope bar to whole pixels so neighbouring bars join without seams
const snapPlugin = {
 id:'snap',
 beforeDatasetsDraw(c){
  c.getSortedVisibleDatasetMetas().forEach(m => {
   if (m.type !== 'bar') return;
   m.data.forEach(el => {
    const l = Math.round(el.x - el.width/2), r = Math.round(el.x + el.width/2);
    el.x = (l + r)/2; el.width = Math.max(1, r - l);
   });
  });
 }
};
const boxPlugin = {
 id:'box',
 afterDraw(c){
  const a = c.chartArea, ctx = c.ctx;
  ctx.save();
  ctx.strokeStyle = '#2b2b2b'; ctx.lineWidth = 1.2;
  const L = a.left+0.5, R = a.right-0.5, T = a.top+0.5, B = a.bottom-0.5;
  ctx.strokeRect(L, T, R-L, B-T);
  ctx.beginPath();
  c.scales.x.ticks.forEach(t => {
   const x = Math.round(c.scales.x.getPixelForValue(t.value)) + 0.5;
   ctx.moveTo(x, B); ctx.lineTo(x, B-4); ctx.moveTo(x, T); ctx.lineTo(x, T+4);
  });
  c.scales.y.ticks.forEach(t => {
   const y = Math.round(c.scales.y.getPixelForValue(t.value)) + 0.5;
   ctx.moveTo(L, y); ctx.lineTo(L+4, y); ctx.moveTo(R, y); ctx.lineTo(R-4, y);
  });
  ctx.stroke();
  ctx.restore();
 }
};

function makeChart(p){
 const [bl, bt, bw, bh] = p.box;
 const cv = document.createElement('canvas');
 cv.width = bw + YW + PR; cv.height = bh + PT + XH;
 cv.style.left = (bl - YW) + 'px'; cv.style.top = (bt - PT) + 'px';
 cv.style.width = cv.width + 'px'; cv.style.height = cv.height + 'px';
 document.body.appendChild(cv);
 let datasets, type;
 if (p.line) {
  type = 'line';
  datasets = [
   {data: dPidT0.map((t,i)=>({x:t, y:dPidV0[i]})), borderColor:p.color, borderWidth:1, pointRadius:0, tension:0, clip:0},
   {data: dPidV.map((v,i)=>({x:i*0.5, y:v})), borderColor:p.color, borderWidth:1.3, pointRadius:0, tension:0, clip:0}
  ];
 } else {
  type = 'bar';
  datasets = [{data: p.hi.map((h,i)=>({x:i*p.bin, y:[p.lo[i], h]})), backgroundColor:p.color, borderWidth:0,
   barPercentage:1, categoryPercentage:1, grouped:false, clip:0}];
 }
 const yTicks = p.ticks;
 new Chart(cv, {
  type, data:{datasets},
  options:{
   responsive:false, animation:false, devicePixelRatio:1, events:[],
   layout:{padding:{left:0, top:PT, right:PR, bottom:0}},
   plugins:{legend:{display:false}, tooltip:{enabled:false}},
   scales:{
    x:{type:'linear', min:0, max:80, offset:false,
     afterBuildTicks: s => { s.ticks = xTicks.map(v => ({value:v})); },
     afterFit: s => { s.height = XH; },
     grid:{color:'#e2e2e2', drawTicks:false, offset:false, lineWidth:1},
     border:{display:false},
     ticks:{font:{size:11, family:FONT}, color:'#3a3a3a', padding:5, maxRotation:0, autoSkip:false},
     title:{display:true, text:'Time(s)', font:{size:11.5, family:FONT}, color:'#3a3a3a', padding:{top:0, bottom:6}}},
    y:{type:'linear', min:p.y[0], max:p.y[1],
     afterBuildTicks: s => { s.ticks = yTicks.map(v => ({value:v})); },
     afterFit: s => { s.width = YW; },
     grid:{color:'#e2e2e2', drawTicks:false, lineWidth:1},
     border:{display:false},
     ticks:{font:{size:10.5, family:FONT}, color:'#3a3a3a', padding:4, autoSkip:false, callback: v => String(v)}}
   }
  },
  plugins:[snapPlugin, boxPlugin]
 });
 // exponent label
 if (p.exp) {
  const e = document.createElement('div');
  e.className = 'exp';
  e.style.left = (bl - 1) + 'px'; e.style.top = (bt - 15) + 'px';
  e.innerHTML = '\u00d710<sup>' + p.exp + '</sup>';
  document.body.appendChild(e);
 }
 // legend
 const [txt, lx, ly, lw, lh] = p.leg;
 const lg = document.createElement('div');
 lg.className = 'leg';
 lg.style.left = lx + 'px'; lg.style.top = ly + 'px'; lg.style.width = lw + 'px'; lg.style.height = lh + 'px';
 lg.innerHTML = '<i style="width:32px;background:' + p.color + '"></i>' + txt;
 document.body.appendChild(lg);
}
panels.forEach(makeChart);

yTitles.forEach(([t, cx, cy]) => {
 const d = document.createElement('div');
 d.className = 'ytl'; d.textContent = t;
 d.style.left = (cx - 110) + 'px'; d.style.top = (cy - 8) + 'px';
 document.body.appendChild(d);
});
captions.forEach(([t, x0, x1, cy]) => {
 const d = document.createElement('div');
 d.className = 'cap'; d.textContent = t;
 d.style.left = x0 + 'px'; d.style.top = (cy - 15) + 'px';
 document.body.appendChild(d);
 const w = d.getBoundingClientRect().width;
 d.style.transform = 'scaleX(' + ((x1 - x0) / w).toFixed(3) + ')';
});
</script>
</body></html>
